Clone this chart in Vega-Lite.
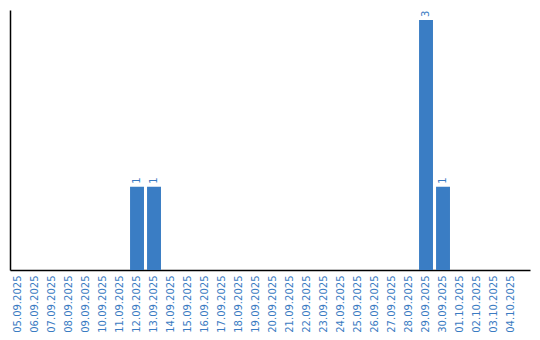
{
  "$schema": "https://vega.github.io/schema/vega-lite/v6.json",
  "width": 520,
  "height": 260,
  "autosize": "none",
  "padding": {"left": 10, "top": 10, "right": 10, "bottom": 70},
  "background": "white",
  "config": {"view": {"stroke": null}, "font": "DejaVu Sans"},
  "data": {
    "values": [
      {"date": "05.09.2025", "count": 0},
      {"date": "06.09.2025", "count": 0},
      {"date": "07.09.2025", "count": 0},
      {"date": "08.09.2025", "count": 0},
      {"date": "09.09.2025", "count": 0},
      {"date": "10.09.2025", "count": 0},
      {"date": "11.09.2025", "count": 0},
      {"date": "12.09.2025", "count": 1},
      {"date": "13.09.2025", "count": 1},
      {"date": "14.09.2025", "count": 0},
      {"date": "15.09.2025", "count": 0},
      {"date": "16.09.2025", "count": 0},
      {"date": "17.09.2025", "count": 0},
      {"date": "18.09.2025", "count": 0},
      {"date": "19.09.2025", "count": 0},
      {"date": "20.09.2025", "count": 0},
      {"date": "21.09.2025", "count": 0},
      {"date": "22.09.2025", "count": 0},
      {"date": "23.09.2025", "count": 0},
      {"date": "24.09.2025", "count": 0},
      {"date": "25.09.2025", "count": 0},
      {"date": "26.09.2025", "count": 0},
      {"date": "27.09.2025", "count": 0},
      {"date": "28.09.2025", "count": 0},
      {"date": "29.09.2025", "count": 3},
      {"date": "30.09.2025", "count": 1},
      {"date": "01.10.2025", "count": 0},
      {"date": "02.10.2025", "count": 0},
      {"date": "03.10.2025", "count": 0},
      {"date": "04.10.2025", "count": 0}
    ]
  },
  "encoding": {
    "x": {
      "field": "date",
      "type": "ordinal",
      "sort": null,
      "scale": {"paddingInner": 0.18, "paddingOuter": 0.384, "align": 0.08},
      "axis": {
        "title": null,
        "ticks": false,
        "grid": false,
        "domainColor": "#000000",
        "domainWidth": 1.5,
        "labelAngle": 270,
        "labelAlign": "right",
        "labelBaseline": "middle",
        "labelPadding": 5,
        "labelColor": "#3a7bc2",
        "labelFont": "DejaVu Sans",
        "labelFontSize": 10
      }
    },
    "y": {
      "field": "count",
      "type": "quantitative",
      "scale": {"domain": [0, 3.12], "nice": false},
      "axis": {
        "title": null,
        "ticks": false,
        "labels": false,
        "grid": false,
        "domainColor": "#000000",
        "domainWidth": 1.5
      }
    }
  },
  "layer": [
    {"mark": {"type": "bar", "color": "#3a7dc4"}},
    {
      "transform": [{"filter": "datum.count > 0"}],
      "mark": {
        "type": "text",
        "angle": 270,
        "align": "left",
        "baseline": "middle",
        "dx": 3,
        "fontSize": 10,
        "font": "DejaVu Sans",
        "color": "#3a7bc2"
      },
      "encoding": {"text": {"field": "count", "type": "quantitative"}}
    }
  ]
}
